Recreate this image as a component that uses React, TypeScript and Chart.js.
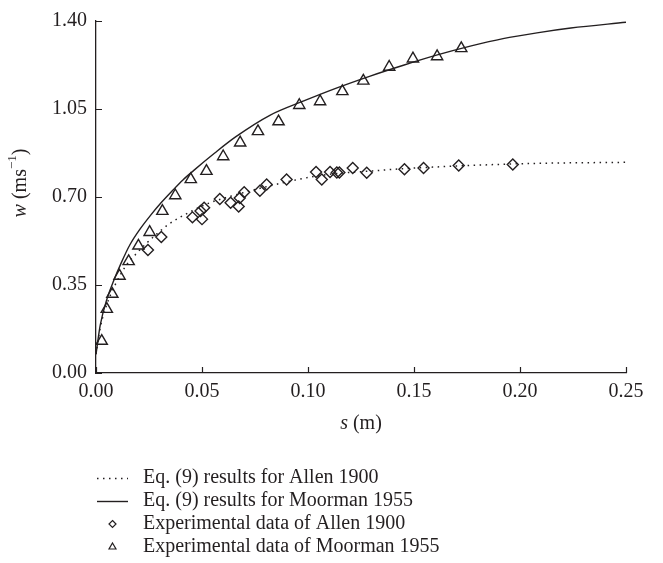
import React, { useEffect, useRef } from 'react';
import { Chart, registerables } from 'chart.js';

Chart.register(...registerables);

// ---------- data ----------
const xTickValues = [0, 0.05, 0.1, 0.15, 0.2, 0.25];
const yTickValues = [0, 0.35, 0.7, 1.05, 1.4];

// Eq. (9) results for Moorman 1955 (solid curve)
const moormanCurveS = [0, 0.002, 0.005, 0.008, 0.012, 0.016, 0.021, 0.026, 0.031, 0.036, 0.041, 0.046, 0.056, 0.066, 0.082, 0.098, 0.114, 0.129, 0.145, 0.161, 0.177, 0.192, 0.208, 0.224, 0.25];
const moormanCurveW = [0.075, 0.19, 0.29, 0.36, 0.44, 0.51, 0.575, 0.63, 0.68, 0.725, 0.768, 0.805, 0.875, 0.94, 1.025, 1.082, 1.135, 1.18, 1.224, 1.265, 1.301, 1.33, 1.353, 1.372, 1.395];

// Eq. (9) results for Allen 1900 (dotted curve)
const allenCurveS = [0, 0.002, 0.005, 0.009, 0.014, 0.0196, 0.0237, 0.0283, 0.034, 0.0442, 0.0537, 0.0631, 0.0757, 0.0868, 0.0978, 0.11, 0.134, 0.1455, 0.17, 0.2034, 0.25];
const allenCurveW = [0.075, 0.18, 0.27, 0.35, 0.425, 0.48, 0.515, 0.55, 0.59, 0.64, 0.677, 0.702, 0.731, 0.754, 0.774, 0.79, 0.806, 0.813, 0.823, 0.833, 0.838];

// Experimental data of Allen 1900 (diamonds)
const allenExpS = [0.0245, 0.0308, 0.0455, 0.05, 0.0493, 0.051, 0.0584, 0.0635, 0.0673, 0.0678, 0.0699, 0.0773, 0.0805, 0.0899, 0.1038, 0.1065, 0.1104, 0.1136, 0.1148, 0.1211, 0.1277, 0.1455, 0.1545, 0.1711, 0.1966];
const allenExpW = [0.489, 0.541, 0.619, 0.612, 0.644, 0.657, 0.692, 0.677, 0.662, 0.696, 0.719, 0.725, 0.75, 0.77, 0.799, 0.77, 0.799, 0.797, 0.797, 0.815, 0.796, 0.81, 0.815, 0.825, 0.829];

// Experimental data of Moorman 1955 (triangles)
const moormanExpS = [0.0027, 0.0051, 0.0077, 0.0111, 0.0154, 0.02, 0.0253, 0.0313, 0.0374, 0.0447, 0.0521, 0.06, 0.068, 0.0764, 0.0861, 0.0959, 0.1057, 0.1162, 0.1261, 0.1383, 0.1495, 0.1609, 0.1723];
const moormanExpW = [0.127, 0.254, 0.314, 0.386, 0.444, 0.506, 0.56, 0.644, 0.706, 0.77, 0.803, 0.861, 0.916, 0.961, 1.0, 1.065, 1.08, 1.12, 1.162, 1.217, 1.25, 1.259, 1.291];

const legendLabels = [
  'Eq. (9) results for Allen 1900',
  'Eq. (9) results for Moorman 1955',
  'Experimental data of Allen 1900',
  'Experimental data of Moorman 1955',
];

const INK = '#231f20';
const FONT = '"Liberation Serif", "DejaVu Serif", serif';
const FS = 20;

const toPoints = (xs: number[], ys: number[]) => xs.map((x, i) => ({ x, y: ys[i] }));

const inwardTicks = {
  id: 'inwardTicks',
  afterDraw(chart: any) {
    const ctx = chart.ctx;
    const xs = chart.scales.x;
    const ys = chart.scales.y;
    const area = chart.chartArea;
    ctx.save();
    ctx.strokeStyle = INK;
    ctx.lineWidth = 1.2;
    ctx.beginPath();
    xTickValues.forEach((v) => {
      const px = Math.round(xs.getPixelForValue(v)) + 0.5;
      ctx.moveTo(px, area.bottom);
      ctx.lineTo(px, area.bottom - 6);
    });
    yTickValues.forEach((v) => {
      const py = Math.round(ys.getPixelForValue(v)) + 0.5;
      ctx.moveTo(area.left, py);
      ctx.lineTo(area.left + 6, py);
    });
    ctx.stroke();
    ctx.restore();
  },
};

const axisTitles = {
  id: 'axisTitles',
  afterDraw(chart: any) {
    const ctx = chart.ctx;
    const area = chart.chartArea;
    ctx.save();
    ctx.fillStyle = INK;
    ctx.textBaseline = 'middle';
    const italic = `italic ${FS}px ${FONT}`;
    const normal = `${FS}px ${FONT}`;
    // x title: s (m)
    ctx.font = italic;
    const sW = ctx.measureText('s').width;
    ctx.font = normal;
    const restX = ' (m)';
    const rW = ctx.measureText(restX).width;
    const cx = (area.left + area.right) / 2;
    const x0 = cx - (sW + rW) / 2;
    const ty = 424;
    ctx.font = italic;
    ctx.textAlign = 'left';
    ctx.fillText('s', x0, ty);
    ctx.font = normal;
    ctx.fillText(restX, x0 + sW, ty);

    // y title: w (ms^-1)
    ctx.translate(21, 183);
    ctx.rotate(-Math.PI / 2);
    const sup = `13px ${FONT}`;
    ctx.font = italic;
    const wW = ctx.measureText('w').width;
    ctx.font = normal;
    const p1 = ' (ms';
    const p1W = ctx.measureText(p1).width;
    ctx.font = sup;
    const supT = '\u22121';
    const supW = ctx.measureText(supT).width;
    ctx.font = normal;
    const p2 = ')';
    const p2W = ctx.measureText(p2).width;
    const total = wW + p1W + supW + p2W;
    let xx = -total / 2;
    ctx.font = italic;
    ctx.fillText('w', xx, 0);
    xx += wW;
    ctx.font = normal;
    ctx.fillText(p1, xx, 0);
    xx += p1W;
    ctx.font = sup;
    ctx.fillText(supT, xx, -8);
    xx += supW;
    ctx.font = normal;
    ctx.fillText(p2, xx, 0);
    ctx.restore();
  },
};

const customLegend = {
  id: 'customLegend',
  afterDraw(chart: any) {
    const ctx = chart.ctx;
    const rows = [478, 501, 524, 547];
    const sx0 = 97;
    const sx1 = 128;
    const tx = 143;
    ctx.save();
    ctx.fillStyle = INK;
    ctx.strokeStyle = INK;
    ctx.font = `${FS}px ${FONT}`;
    ctx.textBaseline = 'middle';
    ctx.textAlign = 'left';
    chart.data.datasets.forEach((ds: any, i: number) => {
      const y = rows[i];
      ctx.save();
      if (ds.showLine) {
        ctx.lineWidth = ds.borderWidth;
        ctx.setLineDash(ds.borderDash || []);
        ctx.beginPath();
        ctx.moveTo(sx0, y + 0.5);
        ctx.lineTo(sx1, y + 0.5);
        ctx.stroke();
      } else {
        const mx = (sx0 + sx1) / 2;
        ctx.lineWidth = 1.2;
        ctx.beginPath();
        if (ds.pointStyle === 'rectRot') {
          const r = 3.5;
          ctx.moveTo(mx, y - r);
          ctx.lineTo(mx + r, y);
          ctx.lineTo(mx, y + r);
          ctx.lineTo(mx - r, y);
          ctx.closePath();
        } else {
          const r = 4;
          ctx.moveTo(mx, y - r);
          ctx.lineTo(mx + r * 0.87, y + r * 0.5);
          ctx.lineTo(mx - r * 0.87, y + r * 0.5);
          ctx.closePath();
        }
        ctx.stroke();
      }
      ctx.restore();
      ctx.fillText(legendLabels[i], tx, y);
    });
    ctx.restore();
  },
};

export default function App() {
  const canvasRef = useRef<HTMLCanvasElement | null>(null);

  useEffect(() => {
    document.body.style.margin = '0';
    const canvas = canvasRef.current;
    if (!canvas) return;
    const chart = new Chart(canvas, {
      type: 'scatter',
      data: {
        datasets: [
          {
            label: legendLabels[0],
            data: toPoints(allenCurveS, allenCurveW),
            showLine: true,
            borderColor: INK,
            borderWidth: 1.5,
            borderDash: [1.5, 4.5],
            pointRadius: 0,
            cubicInterpolationMode: 'monotone',
            fill: false,
          },
          {
            label: legendLabels[1],
            data: toPoints(moormanCurveS, moormanCurveW),
            showLine: true,
            borderColor: INK,
            borderWidth: 1.4,
            pointRadius: 0,
            cubicInterpolationMode: 'monotone',
            fill: false,
          },
          {
            label: legendLabels[2],
            data: toPoints(allenExpS, allenExpW),
            showLine: false,
            pointStyle: 'rectRot',
            pointRadius: 5.5,
            pointBorderWidth: 1.4,
            pointBorderColor: INK,
            pointBackgroundColor: 'rgba(255,255,255,0)',
          },
          {
            label: legendLabels[3],
            data: toPoints(moormanExpS, moormanExpW),
            showLine: false,
            pointStyle: 'triangle',
            pointRadius: 6.5,
            pointBorderWidth: 1.4,
            pointBorderColor: INK,
            pointBackgroundColor: 'rgba(255,255,255,0)',
          },
        ] as any,
      },
      options: {
        responsive: false,
        animation: false,
        layout: { padding: { left: 0, right: 37, top: 12, bottom: 120 } },
        plugins: {
          legend: { display: false },
          tooltip: { enabled: false },
        },
        scales: {
          x: {
            type: 'linear',
            min: 0,
            max: 0.25,
            afterBuildTicks: (scale: any) => {
              scale.ticks = xTickValues.map((v) => ({ value: v }));
            },
            afterFit: (scale: any) => {
              scale.height = 70;
            },
            ticks: {
              padding: 7,
              color: INK,
              font: { family: FONT, size: FS },
              maxRotation: 0,
              callback: (v: any) => Number(v).toFixed(2),
            },
            grid: { display: false, drawTicks: false },
            border: { display: true, color: INK, width: 1.3 },
          },
          y: {
            type: 'linear',
            min: 0,
            max: 1.4,
            afterBuildTicks: (scale: any) => {
              scale.ticks = yTickValues.map((v) => ({ value: v }));
            },
            afterFit: (scale: any) => {
              scale.width = 96;
            },
            ticks: {
              padding: 9,
              color: INK,
              font: { family: FONT, size: FS },
              callback: (v: any) => Number(v).toFixed(2),
            },
            grid: { display: false, drawTicks: false },
            border: { display: true, color: INK, width: 1.3 },
          },
        },
      } as any,
      plugins: [inwardTicks, axisTitles, customLegend],
    });
    return () => chart.destroy();
  }, []);

  return (
    <div style={{ width: 663, height: 563, background: '#fff' }}>
      <canvas ref={canvasRef} width={663} height={563} style={{ width: 663, height: 563, display: 'block' }} />
    </div>
  );
}
